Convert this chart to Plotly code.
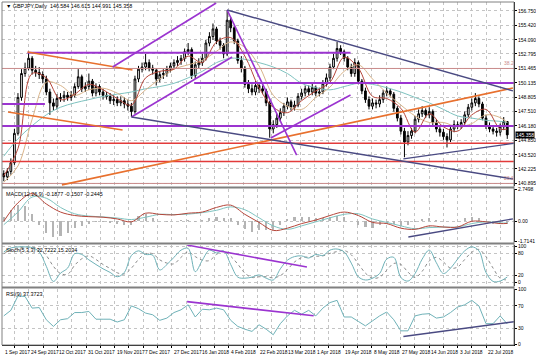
import plotly.graph_objects as go

TITLE = "▼ GBPJPY,Daily  146.584 146.615 144.991 145.358"
MACD_LABEL = "MACD(12,26,9) -0.1877 -0.1507 -0.2445"
STOCH_LABEL = "Stoch(5,3,3) 32.7222 15.2034"
RSI_LABEL = "RSI(9) 37.3723"

DATE_LABELS = ["1 Sep 2017", "24 Sep 2017", "12 Oct 2017", "31 Oct 2017", "19 Nov 2017",
               "7 Dec 2017", "27 Dec 2017", "16 Jan 2018", "4 Feb 2018", "22 Feb 2018",
               "13 Mar 2018", "1 Apr 2018", "19 Apr 2018", "8 May 2018", "27 May 2018",
               "14 Jun 2018", "3 Jul 2018", "22 Jul 2018"]

PRICE_TICKS = [156.750, 155.420, 154.090, 152.795, 151.465, 150.135, 148.805, 147.510,
               146.180, 144.850, 143.520, 142.225, 140.895]
MACD_TICKS = [2.7498, 0.0, -1.7141]
MACD_TICKTEXT = ["2.7498", "0.00", "-1.7141"]
STOCH_TICKS = [100, 80, 20, 0]
RSI_TICKS = [100, 70, 30, 0]
LAST_PRICE = 145.358

OPEN = [141.8, 141.5, 142.0, 142.8, 145.5, 148.8, 151.0, 151.5, 152.4, 151.3,
        151.1, 150.9, 150.5, 149.3, 148.3, 148.0, 148.7, 148.8, 149.0, 148.8,
        149.0, 149.8, 150.7, 149.6, 149.8, 150.3, 149.2, 149.8, 149.3, 149.0,
        148.9, 148.5, 148.6, 148.3, 148.5, 148.2, 148.0, 147.5, 150.5, 151.4,
        151.6, 152.0, 151.5, 151.3, 150.5, 150.9, 151.0, 151.4, 151.7, 152.0,
        152.2, 152.4, 153.0, 153.2, 150.8, 151.8, 152.0, 152.4, 153.8, 154.4,
        155.1, 154.0, 153.6, 152.8, 155.9, 155.2, 154.0, 152.2, 151.5, 150.0,
        149.6, 149.3, 149.9, 149.6, 149.4, 148.3, 145.9, 146.3, 146.9, 147.4,
        148.0, 148.4, 147.9, 148.1, 148.9, 149.2, 149.6, 149.3, 149.7, 149.2,
        149.3, 150.1, 150.6, 151.6, 152.4, 153.3, 153.0, 152.4, 151.6, 151.0,
        152.0, 150.3, 149.4, 148.6, 148.0, 148.3, 148.2, 148.6, 149.2, 149.4,
        149.1, 147.8, 146.9, 145.7, 144.7, 145.3, 145.7, 146.8, 147.3, 147.6,
        147.2, 147.5, 146.5, 145.9, 145.6, 145.2, 144.9, 145.9, 146.3, 146.2,
        146.5, 147.2, 147.9, 148.3, 148.7, 148.2, 146.9, 146.2, 145.9, 145.7,
        145.6, 146.1, 146.584]
HIGH = [142.1, 142.3, 143.2, 145.9, 149.2, 151.4, 152.0, 153.0, 152.6, 151.7,
        151.6, 151.2, 150.8, 149.6, 148.7, 149.1, 149.2, 149.4, 149.3, 149.4,
        150.1, 151.4, 150.9, 150.2, 151.0, 150.5, 150.1, 150.0, 149.6, 149.3,
        149.2, 149.0, 148.9, 148.9, 148.8, 148.6, 148.3, 150.8, 151.7, 152.0,
        152.8, 152.3, 151.8, 151.5, 151.2, 151.4, 151.7, 152.0, 152.3, 152.6,
        152.7, 153.3, 153.8, 153.4, 152.1, 152.4, 152.8, 154.1, 154.8, 155.6,
        155.3, 154.3, 153.8, 156.8, 156.2, 155.4, 154.2, 152.6, 151.7, 150.4,
        150.0, 150.3, 150.2, 149.9, 149.6, 148.5, 146.7, 147.3, 147.8, 148.3,
        148.8, 148.6, 148.5, 149.2, 149.6, 149.9, 149.9, 150.1, 149.9, 149.7,
        150.4, 151.0, 151.9, 152.8, 153.9, 153.6, 153.2, 152.6, 151.9, 152.4,
        152.2, 150.5, 149.7, 148.9, 148.7, 148.6, 149.0, 149.5, 149.8, 149.6,
        149.3, 148.0, 147.2, 146.0, 145.7, 146.0, 147.1, 147.7, 148.0, 147.8,
        147.9, 147.7, 146.8, 146.2, 145.9, 145.5, 146.2, 146.7, 146.6, 146.8,
        147.5, 148.2, 148.7, 149.2, 148.9, 148.4, 147.2, 146.5, 146.2, 146.0,
        146.4, 147.0, 146.615]
LOW = [141.1, 141.2, 141.7, 142.6, 145.3, 148.5, 150.7, 151.3, 150.9, 150.7,
       150.5, 150.1, 149.0, 147.2, 147.6, 147.7, 148.4, 148.4, 148.5, 148.5,
       148.8, 149.6, 149.3, 149.3, 149.5, 148.9, 148.9, 149.0, 148.6, 148.6,
       148.2, 148.1, 148.0, 148.0, 147.8, 147.6, 147.0, 147.3, 150.2, 151.1,
       151.3, 151.2, 150.9, 149.9, 150.2, 150.5, 150.7, 151.1, 151.4, 151.7,
       151.8, 152.1, 152.7, 150.5, 150.5, 151.5, 151.7, 152.2, 153.5, 154.1,
       153.7, 153.2, 152.4, 152.6, 154.8, 153.7, 151.9, 151.1, 149.7, 149.2,
       149.0, 149.0, 149.2, 149.1, 148.0, 145.1, 145.5, 146.0, 146.6, 147.1,
       147.7, 147.6, 147.6, 147.9, 148.6, 148.9, 149.0, 149.0, 148.9, 148.9,
       149.1, 149.8, 150.3, 151.4, 152.1, 152.7, 152.1, 151.3, 150.7, 150.7,
       150.0, 149.1, 148.3, 147.7, 147.7, 147.8, 147.9, 148.3, 148.9, 148.8,
       147.5, 146.6, 145.4, 143.3, 144.4, 145.0, 145.5, 146.5, 147.0, 146.9,
       146.9, 146.2, 145.6, 145.2, 144.9, 144.2, 144.7, 145.6, 145.9, 145.9,
       146.3, 147.0, 147.6, 148.0, 147.9, 146.7, 145.9, 145.6, 145.4, 145.2,
       145.3, 145.8, 144.991]
CLOSE = [141.5, 142.0, 142.8, 145.5, 148.8, 151.0, 151.5, 152.4, 151.3, 151.1,
         150.9, 150.5, 149.3, 148.3, 148.0, 148.7, 148.8, 149.0, 148.8, 149.0,
         149.8, 150.7, 149.6, 149.8, 150.3, 149.2, 149.8, 149.3, 149.0, 148.9,
         148.5, 148.6, 148.3, 148.5, 148.2, 148.0, 147.5, 150.5, 151.4, 151.6,
         152.0, 151.5, 151.3, 150.5, 150.9, 151.0, 151.4, 151.7, 152.0, 152.2,
         152.4, 153.0, 153.2, 150.8, 151.8, 152.0, 152.4, 153.8, 154.4, 155.1,
         154.0, 153.6, 152.8, 155.9, 155.2, 154.0, 152.2, 151.5, 150.0, 149.6,
         149.3, 149.9, 149.6, 149.4, 148.3, 145.9, 146.3, 146.9, 147.4, 148.0,
         148.4, 147.9, 148.1, 148.9, 149.2, 149.6, 149.3, 149.7, 149.2, 149.3,
         150.1, 150.6, 151.6, 152.4, 153.3, 153.0, 152.4, 151.6, 151.0, 152.0,
         150.3, 149.4, 148.6, 148.0, 148.3, 148.2, 148.6, 149.2, 149.4, 149.1,
         147.8, 146.9, 145.7, 144.7, 145.3, 145.7, 146.8, 147.3, 147.6, 147.2,
         147.5, 146.5, 145.9, 145.6, 145.2, 144.9, 145.9, 146.3, 146.2, 146.5,
         147.2, 147.9, 148.3, 148.7, 148.2, 146.9, 146.2, 145.9, 145.7, 145.6,
         146.1, 146.584, 145.358]

# moving averages sampled every 4 candles (last point = last candle)
MA_FAST = [141.6, 144.1, 151.0, 150.6, 148.6, 149.1, 150.0, 149.5, 148.7, 148.1,
           150.6, 151.2, 151.4, 152.6, 152.0, 153.9, 154.3, 152.6, 149.7, 147.9,
           147.4, 148.5, 149.4, 150.2, 152.5, 151.5, 148.9, 148.7, 147.8, 145.6,
           147.3, 146.1, 145.7, 147.2, 147.7, 145.9, 145.9]
MA_MID = [141.0, 142.5, 146.8, 150.2, 149.9, 149.0, 149.5, 149.65, 149.2, 148.5,
          149.5, 150.5, 151.4, 151.8, 152.2, 153.05, 153.9, 153.4, 151.7, 149.0,
          148.0, 147.7, 148.8, 149.75, 151.2, 151.8, 150.5, 149.2, 148.1, 147.1,
          146.5, 146.5, 146.1, 146.4, 147.2, 146.95, 146.5]
MA_SLOW = [143.4, 145.0, 146.2, 147.2, 147.9, 148.3, 148.6, 148.9, 149.1, 149.3,
           149.6, 149.8, 150.1, 150.6, 151.2, 152.0, 152.4, 152.3, 152.0, 151.6,
           151.0, 150.1, 149.7, 149.5, 149.8, 150.1, 150.0, 149.7, 149.3, 148.8,
           148.3, 147.7, 147.1, 146.9, 146.7, 146.6, 146.5]
MACD_MAIN = [0.0, 1.6, 2.4, 1.5, 0.8, 0.5, 0.4, 0.35, 0.2, -0.05,
             0.7, 0.6, 0.55, 0.7, 0.8, 1.2, 1.4, 0.6, -0.1, -0.8,
             -0.6, -0.2, 0.1, 0.5, 0.8, 0.5, -0.1, -0.2, -0.6, -0.7,
             -0.4, -0.5, -0.5, 0.0, -0.05, -0.2, -0.19]
MACD_SIGNAL = [-0.3, 0.8, 2.1, 2.0, 1.2, 0.65, 0.45, 0.38, 0.28, 0.15,
               0.35, 0.6, 0.58, 0.62, 0.75, 0.95, 1.25, 1.0, 0.3, -0.4,
               -0.7, -0.4, -0.05, 0.3, 0.6, 0.65, 0.2, -0.1, -0.4, -0.65,
               -0.55, -0.5, -0.5, -0.2, -0.05, -0.15, -0.15]
# oscillators sampled every 2 candles
MACD_HIST = [0.4, 1.0, 1.4, 1.3, 0.6, -0.3, -1.0, -1.4, -1.3, -1.0,
             -0.6, -0.4, -0.2, -0.1, -0.1, -0.15, -0.2, -0.3, -0.3, 0.5,
             0.6, 0.3, 0.0, -0.1, 0.0, 0.1, 0.15, -0.1, 0.1, 0.3,
             0.4, 0.3, 0.3, -0.3, -0.7, -0.9, -0.8, -0.8, -0.8, -0.3,
             0.2, 0.4, 0.4, 0.35, 0.3, 0.3, 0.4, 0.45, 0.35, 0.0,
             -0.3, -0.5, -0.6, -0.3, -0.2, -0.2, -0.4, -0.3, -0.1, 0.2,
             0.3, 0.1, 0.0, 0.0, 0.0, 0.3, 0.4, 0.3, 0.0, -0.2,
             -0.2, -0.245]
STOCH_K = [85, 96, 99, 99, 97, 85, 45, 3, 26, 40,
           80, 78, 63, 50, 38, 28, 16, 28, 75, 88,
           78, 76, 35, 50, 70, 90, 95, 30, 62, 90,
           82, 88, 50, 15, 12, 15, 21, 12, 7, 38,
           62, 72, 74, 68, 78, 75, 90, 93, 85, 54,
           16, 7, 12, 25, 65, 70, 14, 4, 25, 65,
           90, 55, 25, 40, 65, 88, 99, 88, 28, 3,
           4, 15.2]
STOCH_D = [80, 90, 96, 98, 98, 93, 75, 45, 25, 23,
           48, 66, 74, 64, 50, 39, 27, 24, 40, 64,
           80, 80, 63, 54, 52, 70, 85, 72, 62, 61,
           78, 87, 73, 51, 26, 14, 16, 16, 13, 19,
           36, 57, 69, 71, 73, 74, 81, 86, 89, 77,
           52, 26, 12, 15, 34, 53, 50, 29, 14, 31,
           60, 70, 57, 40, 43, 64, 84, 92, 72, 40,
           12, 7]
RSI = [52, 62, 88, 87, 66, 67, 45, 33, 45, 47,
       58, 58, 60, 46, 46, 46, 41, 45, 70, 65,
       57, 54, 44, 48, 58, 63, 72, 50, 64, 63,
       66, 63, 44, 33, 28, 24, 36, 28, 18, 38,
       52, 62, 55, 62, 52, 66, 76, 80, 50, 50,
       42, 34, 43, 52, 59, 45, 25, 25, 52, 55,
       56, 48, 50, 58, 68, 72, 80, 70, 38, 38,
       52, 37.3723]

# analyst drawings: (candle_from, value_from, candle_to, value_to)
LEVELS_PURPLE = [(6.7, 152.9, 97.8, 152.9), (53.7, 150.135, 145, 150.135),
                 (-1, 148.2, 11.6, 148.2), (-1, 146.18, 145, 146.18)]
LEVELS_RED = [(-1, 144.6, 145, 144.6), (-1, 142.9, 145, 142.9)]
FIBO = [(151.465, "38.2"), (140.895, "23.6")]
TL_ORANGE = [(6.7, 152.98, 36.3, 151.33), (1.2, 147.46, 33.5, 145.81), (16.4, 140.76, 143.6, 149.67)]
TL_PURPLE = [(30.7, 151.6, 59.9, 157.48), (36.0, 147.0, 64.4, 152.52),
             (63.0, 156.84, 82.6, 143.5), (75.3, 145.07, 97.8, 149.03)]
TL_NAVY = [(63.0, 156.84, 143.6, 149.4), (36.0, 147.0, 143.6, 141.3), (112.7, 143.15, 144.2, 144.6)]
MACD_TL = [(114.1, -1.37, 143.6, 0.21)]
STOCH_TL = [(51.7, 104, 85.5, 43)]
RSI_TL_PURPLE = [(51.7, 77.7, 87.4, 52.1)]
RSI_TL_NAVY = [(112.7, 14.9, 144.2, 41.8)]

# ---------------------------------------------------------------- layout
N = len(CLOSE)
K = list(range(N))
K4 = list(range(0, N - 2, 4)) + [N - 1]
K2 = list(range(0, N, 2))
XR = [-0.5, 143.9]
LBL0, LBL_STEP = 7.09, 8.06
GRID = [LBL0 - LBL_STEP / 2 + LBL_STEP / 2 * i for i in range(35)]

PURPLE = "#9b34d0"
ORANGE = "#e8702e"
NAVY = "#4a4a82"
RED = "#e23b3b"
FIB = "#c98a8a"
GRIDC = "#c4c4c4"
FONT = "Liberation Sans Narrow, Liberation Sans, Arial, sans-serif"
TXT = 5.4
AX = 5.0

D_MAIN = [0.4636, 1.0]
D_MACD = [0.3003, 0.4548]
D_STOCH = [0.1720, 0.2915]
D_RSI = [0.0, 0.1633]

fig = go.Figure()

fig.add_trace(go.Candlestick(
    x=K, open=OPEN, high=HIGH, low=LOW, close=CLOSE, xaxis="x", yaxis="y",
    increasing=dict(line=dict(color="#000000", width=1), fillcolor="#ffffff"),
    decreasing=dict(line=dict(color="#000000", width=1), fillcolor="#000000"),
    whiskerwidth=0, showlegend=False, hoverinfo="skip"))

for arr, col in [(MA_SLOW, "#7fc3c0"), (MA_MID, "#d9b48a"), (MA_FAST, "#b5463a")]:
    fig.add_trace(go.Scatter(x=K4, y=arr, mode="lines", xaxis="x", yaxis="y",
                             line=dict(color=col, width=1, shape="spline"),
                             showlegend=False, hoverinfo="skip"))


def seg(items, col, width, xa, ya, dash="solid"):
    for x0, y0, x1, y1 in items:
        fig.add_trace(go.Scatter(x=[x0, x1], y=[y0, y1], mode="lines", xaxis=xa, yaxis=ya,
                                 line=dict(color=col, width=width, dash=dash),
                                 showlegend=False, hoverinfo="skip"))


for lvl, txt in FIBO:
    seg([(-1, lvl, 145, lvl)], FIB, 1, "x", "y")
seg(LEVELS_RED, RED, 1.5, "x", "y")
seg(LEVELS_PURPLE, PURPLE, 2, "x", "y")
seg(TL_ORANGE, ORANGE, 1.6, "x", "y")
seg(TL_PURPLE, PURPLE, 1.6, "x", "y")
seg(TL_NAVY, NAVY, 1.4, "x", "y")

# MACD
fig.add_trace(go.Bar(x=K2, y=MACD_HIST, xaxis="x2", yaxis="y2", width=0.6,
                     marker=dict(color="#b4b4b4", line=dict(width=0)),
                     showlegend=False, hoverinfo="skip"))
fig.add_trace(go.Scatter(x=K4, y=MACD_SIGNAL, mode="lines", xaxis="x2", yaxis="y2",
                         line=dict(color="#7fc3c0", width=1, shape="spline"),
                         showlegend=False, hoverinfo="skip"))
fig.add_trace(go.Scatter(x=K4, y=MACD_MAIN, mode="lines", xaxis="x2", yaxis="y2",
                         line=dict(color="#b5463a", width=1, shape="spline"),
                         showlegend=False, hoverinfo="skip"))
seg(MACD_TL, NAVY, 1.4, "x2", "y2")

# Stochastic
fig.add_trace(go.Scatter(x=K2, y=STOCH_D, mode="lines", xaxis="x3", yaxis="y3",
                         line=dict(color="#8c8c8c", width=1, dash="dot", shape="spline"),
                         showlegend=False, hoverinfo="skip"))
fig.add_trace(go.Scatter(x=K2, y=STOCH_K, mode="lines", xaxis="x3", yaxis="y3",
                         line=dict(color="#6fb2b8", width=1, shape="spline"),
                         showlegend=False, hoverinfo="skip"))
seg(STOCH_TL, PURPLE, 1.6, "x3", "y3")

# RSI
fig.add_trace(go.Scatter(x=K2, y=RSI, mode="lines", xaxis="x4", yaxis="y4",
                         line=dict(color="#6fb2b8", width=1),
                         showlegend=False, hoverinfo="skip"))
seg(RSI_TL_PURPLE, PURPLE, 1.6, "x4", "y4")
seg(RSI_TL_NAVY, NAVY, 1.4, "x4", "y4")


def xax(anchor, last=False):
    return dict(range=XR, domain=[0, 1], anchor=anchor, tickvals=GRID, showticklabels=False,
                showgrid=True, gridcolor=GRIDC, griddash="dot", gridwidth=1, zeroline=False,
                showline=last, linecolor="#000000", linewidth=1,
                ticks="outside" if last else "", ticklen=2, tickcolor="#000000",
                rangeslider=dict(visible=False), fixedrange=True)


def yax(anchor, dom, rng, vals, text=None):
    d = dict(domain=dom, range=rng, anchor=anchor, side="right", tickvals=vals,
             showgrid=True, gridcolor=GRIDC, griddash="dot", zeroline=False,
             showline=True, linecolor="#000000", linewidth=1, ticks="outside", ticklen=2,
             tickcolor="#000000", tickfont=dict(size=AX, color="#000000", family=FONT),
             fixedrange=True, automargin=False)
    if text is not None:
        d["ticktext"] = text
    return d


fig.update_layout(
    width=536, height=357, margin=dict(l=2, r=22, t=2, b=12, autoexpand=False),
    paper_bgcolor="#ffffff", plot_bgcolor="#ffffff", showlegend=False, bargap=0,
    font=dict(family=FONT, size=TXT, color="#000000"),
    xaxis=xax("y"), xaxis2=xax("y2"), xaxis3=xax("y3"), xaxis4=xax("y4", True),
    yaxis=yax("x", D_MAIN, [140.66, 157.575], PRICE_TICKS, [f"{v:.3f}" for v in PRICE_TICKS]),
    yaxis2=yax("x2", D_MACD, [-1.80, 2.80], MACD_TICKS, MACD_TICKTEXT),
    yaxis3=yax("x3", D_STOCH, [-9.7, 104.2], STOCH_TICKS),
    yaxis4=yax("x4", D_RSI, [-0.5, 100.5], RSI_TICKS),
)

ann = [
    dict(text=TITLE, x=0.004, y=0.988, xref="paper", yref="paper", xanchor="left",
         yanchor="middle", showarrow=False, font=dict(size=TXT)),
    dict(text=MACD_LABEL, x=0.004, y=D_MACD[1] - 0.014, xref="paper", yref="paper",
         xanchor="left", yanchor="middle", showarrow=False, font=dict(size=TXT)),
    dict(text=STOCH_LABEL, x=0.004, y=D_STOCH[1] - 0.014, xref="paper", yref="paper",
         xanchor="left", yanchor="middle", showarrow=False, font=dict(size=TXT)),
    dict(text=RSI_LABEL, x=0.004, y=D_RSI[1] - 0.014, xref="paper", yref="paper",
         xanchor="left", yanchor="middle", showarrow=False, font=dict(size=TXT)),
    dict(text=f"{LAST_PRICE:.3f}", x=1.0015, y=LAST_PRICE, xref="paper", yref="y",
         xanchor="left", yanchor="middle", showarrow=False, bgcolor="#000000",
         font=dict(size=AX, color="#ffffff"), borderpad=0),
]
for lvl, txt in FIBO:
    ann.append(dict(text=txt, x=140.5, y=lvl, xref="x", yref="y", xanchor="left",
                    yanchor="bottom", showarrow=False, font=dict(size=5.0, color=FIB)))
for i, lab in enumerate(DATE_LABELS):
    xv = -0.2 if i == 0 else LBL0 + LBL_STEP * (i - 1)
    ann.append(dict(text=lab, x=xv, y=-0.008, xref="x4", yref="paper", xanchor="left",
                    yanchor="top", showarrow=False, font=dict(size=4.9)))
fig.update_layout(annotations=ann)

shapes = []
for yv in [(D_MAIN[0] + D_MACD[1]) / 2, (D_MACD[0] + D_STOCH[1]) / 2, (D_STOCH[0] + D_RSI[1]) / 2]:
    shapes.append(dict(type="line", xref="paper", yref="paper", x0=0, x1=1, y0=yv, y1=yv,
                       line=dict(color="#808080", width=2)))
shapes.append(dict(type="rect", xref="paper", yref="paper", x0=0, x1=1, y0=0, y1=1,
                   line=dict(color="#808080", width=1)))
fig.update_layout(shapes=shapes)

fig.write_html("out.html", config={"displayModeBar": False, "staticPlot": True},
               post_script="document.body.style.margin='0';document.body.style.overflow='hidden';")
